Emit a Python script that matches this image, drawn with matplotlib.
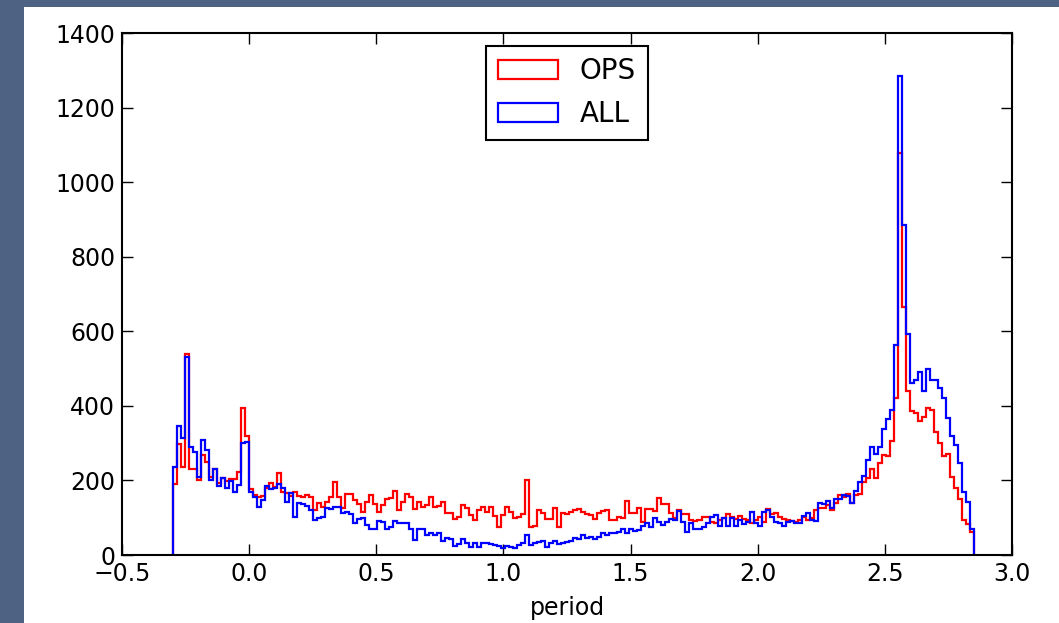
import numpy as np
import matplotlib
matplotlib.use("Agg")
import matplotlib.pyplot as plt
from matplotlib.patches import Rectangle

# histogram bin range (200 bins)
bin_lo, bin_hi, n_bins = -0.3, 2.85, 200

# counts per bin
ops = [190, 297, 237, 539, 232, 230, 201, 268, 249, 210, 230, 194, 207, 198, 203, 203, 222, 393, 319, 176,
       161, 156, 158, 181, 192, 183, 221, 170, 167, 158, 170, 158, 155, 161, 156, 121, 140, 130,
       143, 156, 197, 155, 125, 165, 163, 147, 138, 116, 143, 161, 138, 116, 134, 149, 152, 172, 121, 143,
       163, 155, 123, 143, 128, 134, 156, 128, 132, 143, 112, 112, 96, 101, 134, 125, 107, 94, 121, 128, 115,
       128, 105, 76, 107, 128, 116, 98, 103, 110, 201, 76, 78, 121, 114, 96, 96, 125, 76, 114, 110,
       116, 121, 123, 116, 110, 107, 96, 114, 119, 121, 94, 94, 101, 98, 146, 112, 112, 125, 89, 123,
       123, 119, 152, 138, 138, 112, 98, 121, 110, 110, 94, 92, 94, 103, 101, 89, 85, 94, 98, 110,
       101, 97, 105, 96, 94, 87, 94, 103, 89, 123, 110, 114, 101, 96, 94, 92, 89, 94, 103,
       94, 98, 121, 125, 125, 134, 121, 139, 161, 156, 165, 139, 161, 165, 197, 206, 230, 206, 246, 268,
       265, 305, 422,
       1077, 665, 440, 385, 380, 360, 370, 395, 390, 330, 300, 265, 270, 210, 180, 150, 95, 82, 62]

all_counts = [237, 346, 313, 530, 290, 277, 210, 308, 283, 201, 231, 185, 207, 181, 199, 170, 188, 300, 304, 170,
              156, 128, 147, 185, 176, 181, 190, 179, 143, 167, 101, 140, 137, 131, 121, 94, 98, 103,
              125, 123, 128, 130, 112, 116, 110, 85, 96, 98, 80, 71, 71, 92, 89, 71, 74, 92, 85, 85,
              85, 71, 40, 69, 71, 53, 58, 55, 60, 38, 45, 43, 24, 29, 42, 31, 22, 31, 22, 33, 33,
              29, 27, 24, 20, 24, 22, 18, 27, 31, 53, 27, 31, 36, 38, 22, 31, 38, 29, 31, 36,
              38, 47, 42, 53, 47, 49, 42, 49, 58, 53, 58, 60, 63, 71, 60, 71, 65, 67, 78, 87,
              76, 98, 89, 80, 89, 96, 94, 119, 89, 63, 85, 71, 71, 74, 85, 103, 107, 78, 98, 78,
              98, 78, 94, 83, 89, 116, 87, 78, 116, 121, 101, 89, 85, 78, 89, 92, 87, 87, 105,
              113, 95, 91, 140, 136, 145, 127, 149, 149, 162, 158, 140, 171, 196, 212, 254, 289, 270, 289, 339,
              364, 390, 563,
              1285, 885, 593, 462, 470, 490, 440, 498, 469, 470, 448, 420, 368, 320, 296, 247, 170, 143, 70]

xticks = [-0.5, 0.0, 0.5, 1.0, 1.5, 2.0, 2.5, 3.0]
yticks = [0, 200, 400, 600, 800, 1000, 1200, 1400]

plt.rcParams['font.family'] = ['DejaVu Sans']
plt.rcParams['font.size'] = 17

fig = plt.figure(figsize=(10.59, 6.23), dpi=100, facecolor='#4e6383')
# white page area (slide background shows on the left and top)
fig.patches.append(Rectangle((24 / 1059, 0), 1, 1 - 7 / 623, transform=fig.transFigure,
                             facecolor='white', edgecolor='none', zorder=-10))

ax = fig.add_axes([0.1152, 0.1091, 0.8404, 0.8379])
ax.set_zorder(1)

edges = np.linspace(bin_lo, bin_hi, n_bins + 1)
centers = (edges[:-1] + edges[1:]) / 2
ax.hist(centers, bins=edges, weights=ops, histtype='step', color='red', lw=1.6, label='OPS')
ax.hist(centers, bins=edges, weights=all_counts, histtype='step', color='blue', lw=1.6, label='ALL')

ax.set_xlim(-0.5, 3.0)
ax.set_ylim(0, 1400)
ax.set_xticks(xticks)
ax.set_yticks(yticks)
ax.set_xticklabels(['\u22120.5', '0.0', '0.5', '1.0', '1.5', '2.0', '2.5', '3.0'])
ax.tick_params(direction='in', top=True, right=True, length=8, width=1, labelsize=17, pad=5)
for s in ax.spines.values():
    s.set_linewidth(1.5)
ax.set_xlabel('period', fontsize=17, labelpad=7)

leg = ax.legend(loc='upper center', fontsize=20, fancybox=False, framealpha=1,
                edgecolor='black', handlelength=2.15, handletextpad=0.8,
                labelspacing=0.55, borderaxespad=0.45, borderpad=0.42)
leg.get_frame().set_linewidth(1.5)

fig.savefig('out.png', dpi=100, facecolor=fig.get_facecolor())
